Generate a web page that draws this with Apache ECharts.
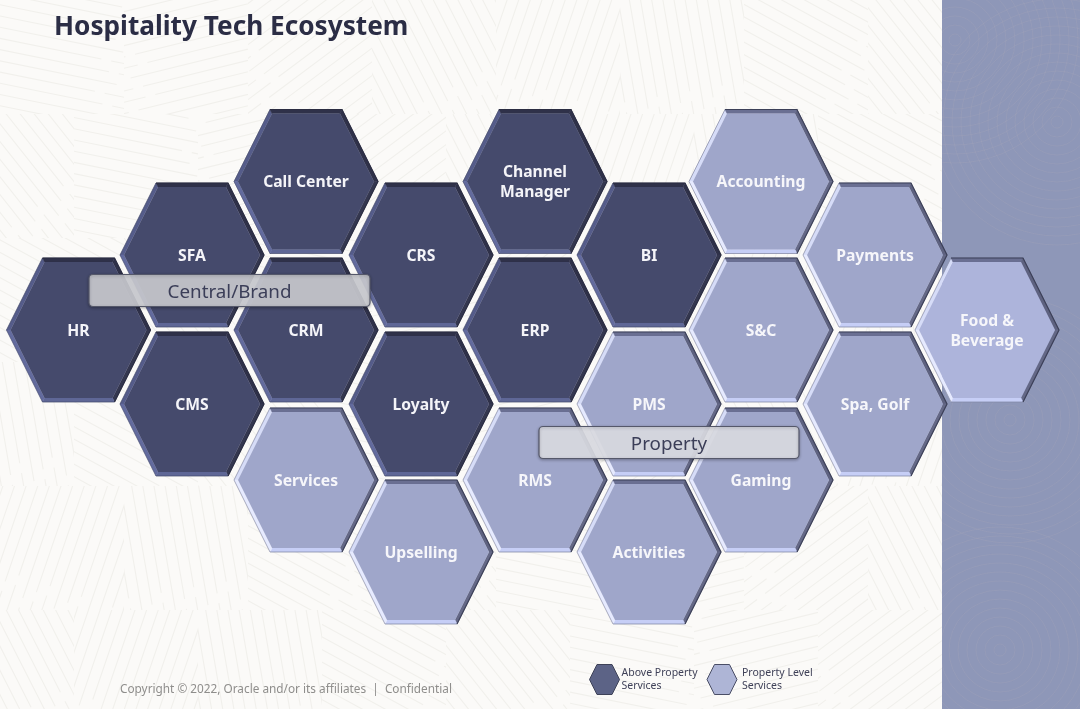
<!DOCTYPE html>
<html>
<head>
<meta charset="utf-8">
<style>html,body{margin:0;padding:0;background:#fbfaf8}#c{width:1080px;height:709px}</style>
<script src="https://cdn.jsdelivr.net/npm/echarts@6/dist/echarts.min.js"></script>
</head>
<body>
<div id="c"></div>
<script>
// ---- Data ----
const aboveNames = ['Call Center','SFA','HR','CMS','CRM','CRS','Loyalty','Channel\nManager','ERP','BI'];
const aboveX     = [306,192,78.5,192,306,421,421,535,535,649];
const aboveY     = [181.5,255,330,404,330,255,404,181.5,330,255];
const propertyNames = ['Services','Upselling','RMS','PMS','Activities','Gaming','S&C','Accounting','Payments','Spa, Golf'];
const propertyX     = [306,421,535,649,649,761,761,761,875,875];
const propertyY     = [480,552,480,404,552,480,330,181.5,255,404];
const venueNames = ['Food &\nBeverage'];
const venueX     = [987];
const venueY     = [330];
const bandNames  = ['Central/Brand','Property'];
const bandStart  = [89,539];
const bandEnd    = [370,799];
const bandCentre = [290.5,442.5];
const legendNames = ['Above Property\nServices','Property Level\nServices'];
const titleText = 'Hospitality Tech Ecosystem';
const footerText = 'Copyright © 2022, Oracle and/or its affiliates  |  Confidential';

// ---- Styles ----
const darkTone  = {face:'#454a6c', top:'#2f3149', ur:'#2f3149', lr:'#34374f', bottom:'#5f6796', ll:'#636b9e', ul:'#555c8a', edge:'#2b2d42', rim:'rgba(43,45,66,0.5)', text:'#f4f4f8'};
const lightTone = {face:'#9fa6ca', top:'#6a6f92', ur:'#5e6280', lr:'#646886', bottom:'#c6cef6', ll:'#e6eaff', ul:'#d6dcf8', edge:'#3c4058', rim:'rgba(60,64,88,0.55)', text:'#f6f6fa'};
const venueTone = Object.assign({}, lightTone, {face:'#adb4db'});
const HEX_SPAN = 144, BEVEL = 4;

function makeTexture() {
  const cv = document.createElement('canvas');
  cv.width = 1080; cv.height = 709;
  const g = cv.getContext('2d');
  const angles = [0.2, 1.4, 2.5, 0.9, 1.9, 2.9, 0.5, 1.1];
  const cell = 124;
  g.lineWidth = 1.1;
  g.strokeStyle = '#f1f0ec';
  for (let r = 0; r * cell < 709 + cell; r++) {
    for (let c = 0; c * cell < 942 + cell; c++) {
      const ox = c * cell - (r % 2) * 50, oy = r * cell - 10;
      const a = angles[(r * 3 + c * 5) % angles.length];
      g.save();
      g.beginPath();
      g.rect(ox, oy, cell, cell);
      g.clip();
      g.translate(ox + cell / 2, oy + cell / 2);
      g.rotate(a);
      for (let k = -100; k <= 100; k += 11) {
        const off = ((k + 100) / 11 % 3) * 10;
        g.beginPath();
        g.moveTo(-100 + off, k);
        g.lineTo(40 + off, k);
        g.moveTo(50 + off, k);
        g.lineTo(110, k);
        g.stroke();
      }
      g.restore();
    }
  }
  // right-hand panel: swirling contour lines
  g.clearRect(942, 0, 138, 709);
  g.save();
  g.beginPath();
  g.rect(942, 0, 138, 709);
  g.clip();
  g.strokeStyle = 'rgba(165,165,185,0.3)';
  g.lineWidth = 1;
  [[1057,122],[955,40],[1010,420],[1000,650]].forEach(function (p) {
    for (let rad = 6; rad < 130; rad += 9) {
      g.beginPath();
      g.arc(p[0], p[1], rad, 0, Math.PI * 2);
      g.stroke();
    }
  });
  g.restore();
  return cv;
}

function hexPoints(api, cx, cy, halfSize) {
  const h = api.size([halfSize, 0])[0];
  return [[cx - h, cy], [cx - h / 2, cy - h], [cx + h / 2, cy - h], [cx + h, cy], [cx + h / 2, cy + h], [cx - h / 2, cy + h]];
}

function hexRenderer(tone, names) {
  return function (params, api) {
    const p = api.coord([api.value(0), api.value(1)]);
    const o = hexPoints(api, p[0], p[1], HEX_SPAN / 2);
    const i = hexPoints(api, p[0], p[1], HEX_SPAN / 2 - BEVEL);
    const facets = [[0, 1, tone.ul], [1, 2, tone.top], [2, 3, tone.ur], [3, 4, tone.lr], [4, 5, tone.bottom], [5, 0, tone.ll]];
    const children = facets.map(function (f) {
      return {type:'polygon', shape:{points:[o[f[0]], o[f[1]], i[f[1]], i[f[0]]]}, style:{fill:f[2], stroke:f[2], lineWidth:0.5}, silent:true};
    });
    children.push({type:'polygon', shape:{points:i}, style:{fill:tone.face}, silent:true});
    // thin rim: soft on the lit sides, dark along the top and the right
    children.push({type:'polyline', shape:{points:[o[4], o[5], o[0], o[1]]}, style:{fill:'none', stroke:tone.rim, lineWidth:0.7}, silent:true});
    children.push({type:'polyline', shape:{points:[o[1], o[2], o[3], o[4]]}, style:{fill:'none', stroke:tone.edge, lineWidth:1.2}, silent:true});
    children.push({type:'text', x:p[0], y:p[1] + 1.5, silent:true, style:{
      text:names[params.dataIndex], fill:tone.text, align:'center', verticalAlign:'middle',
      font:'bold 15.7px "Noto Sans"', lineHeight:20
    }});
    return {type:'group', children:children};
  };
}

function bandRenderer(params, api) {
  const a = api.coord([api.value(0), api.value(2)]);
  const b = api.coord([api.value(1), api.value(2)]);
  const idx = params.dataIndex;
  const fill = idx === 0 ? 'rgba(203,204,210,0.9)' : 'rgba(222,223,230,0.9)';
  return {type:'group', children:[
    {type:'rect', shape:{x:a[0], y:a[1] - 16, width:b[0] - a[0], height:32, r:4},
      style:{fill:fill, stroke:'#55586a', lineWidth:1.2, shadowColor:'rgba(0,0,0,0.3)', shadowBlur:3, shadowOffsetY:1}, silent:true},
    {type:'text', x:(a[0] + b[0]) / 2, y:a[1] + 2, silent:true, style:{text:bandNames[idx], fill:'#3b3e58', align:'center', verticalAlign:'middle', font:'18.8px "Noto Sans"'}}
  ]};
}

const zip2 = (xs, ys) => xs.map((x, i) => [x, ys[i]]);

const chart = echarts.init(document.getElementById('c'));
chart.setOption({
  animation:false,
  backgroundColor:'#fbfaf8',
  title:[
    {text:titleText, left:49, top:10, textStyle:{fontFamily:'Noto Sans', fontWeight:'bold', fontSize:26.2, color:'#2b2d45'}},
    {text:footerText, left:115, top:679, textStyle:{fontFamily:'Noto Sans', fontWeight:'normal', fontSize:11.8, color:'#8f8e8c'}}
  ],
  legend:{
    left:584, top:659, itemWidth:30, itemHeight:30, itemGap:9, selectedMode:false,
    icon:'path://M0 50 L25 0 L75 0 L100 50 L75 100 L25 100 Z',
    textStyle:{fontFamily:'Noto Sans', fontSize:10.5, lineHeight:13, color:'#3f4158'},
    data:[
      {name:legendNames[0], itemStyle:{color:'#5c6386', borderColor:'#3e4258', borderWidth:1}, textStyle:{padding:[3,0,0,-3]}},
      {name:legendNames[1], itemStyle:{color:'#aeb5d6', borderColor:'#4a4e66', borderWidth:1}, textStyle:{padding:[3,0,0,0]}}
    ]
  },
  grid:{left:0, right:0, top:0, bottom:0},
  xAxis:{type:'value', min:0, max:1080, show:false},
  yAxis:{type:'value', min:0, max:709, inverse:true, show:false},
  graphic:[
    {type:'rect', shape:{x:942, y:0, width:138, height:709}, style:{fill:'#8e97b8'}, silent:true, z:-2},
    {type:'image', style:{image:makeTexture(), x:0, y:0, width:1080, height:709}, silent:true, z:-1}
  ],
  series:[
    {type:'custom', name:legendNames[0], coordinateSystem:'cartesian2d', clip:false, z:3, itemStyle:{color:'#5c6386'},
      renderItem:hexRenderer(darkTone, aboveNames), data:zip2(aboveX, aboveY)},
    {type:'custom', name:legendNames[1], coordinateSystem:'cartesian2d', clip:false, z:3, itemStyle:{color:'#aeb5d6'},
      renderItem:hexRenderer(lightTone, propertyNames), data:zip2(propertyX, propertyY)},
    {type:'custom', name:'Venue', coordinateSystem:'cartesian2d', clip:false, z:3,
      renderItem:hexRenderer(venueTone, venueNames), data:zip2(venueX, venueY)},
    {type:'custom', name:'Bands', coordinateSystem:'cartesian2d', clip:false, z:6,
      renderItem:bandRenderer, data:bandStart.map((s, i) => [s, bandEnd[i], bandCentre[i]])}
  ]
});
</script>
</body>
</html>
